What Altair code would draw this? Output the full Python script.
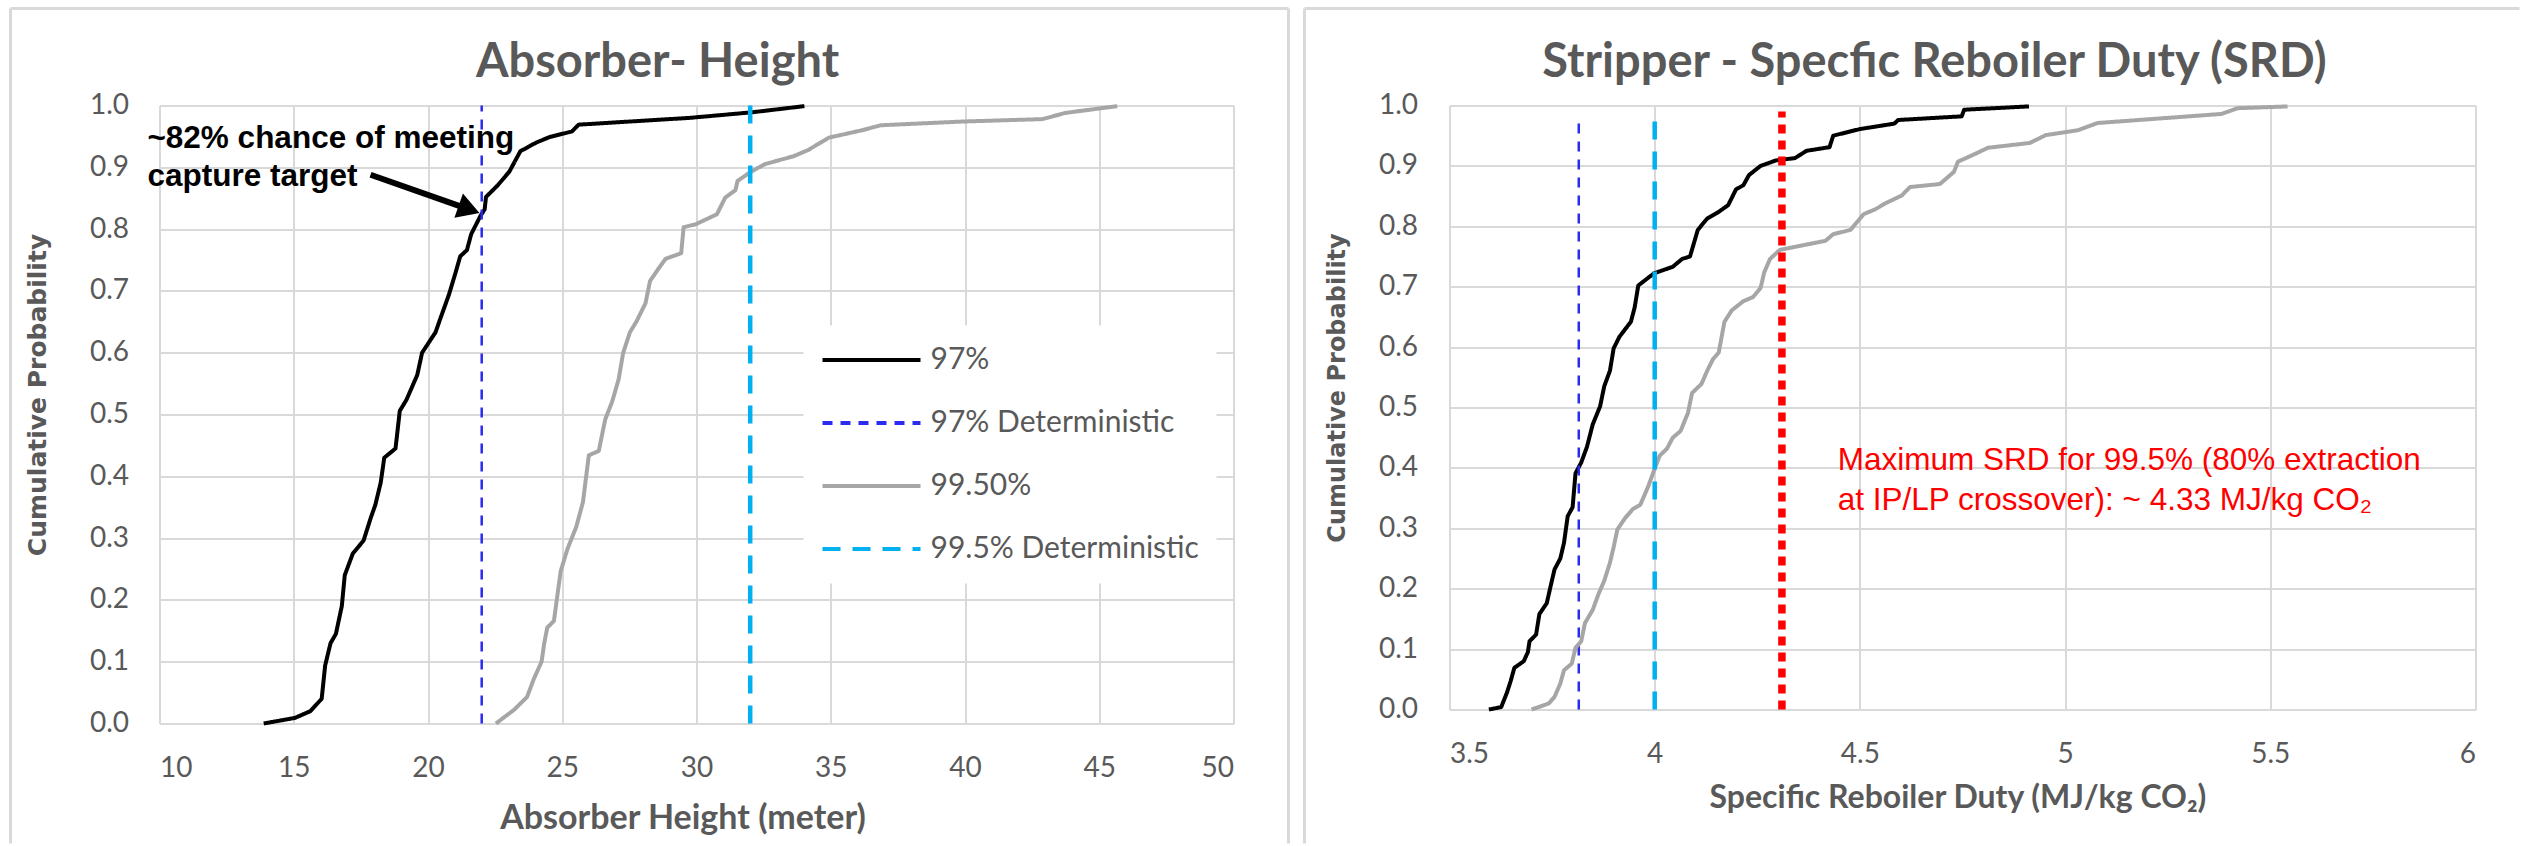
import altair as alt
import pandas as pd

# ---------------- data ----------------
SERIES = ["97%", "97% Deterministic", "99.50%", "99.5% Deterministic"]
SERIES_COLORS = ["#000000", "#2B2BF0", "#A6A6A6", "#00B0F0"]
SERIES_DASH = [[1, 0], [10, 8], [1, 0], [18, 12]]

# Absorber height CDFs
abs97_x = [13.88, 15.04, 15.62, 16.04, 16.17, 16.37, 16.57, 16.79, 16.9, 17.2,
           17.6, 17.87, 18.04, 18.24, 18.37, 18.79, 18.95, 19.2, 19.6, 19.78,
           20.28, 20.45, 20.78, 21.03, 21.2, 21.45, 21.61, 21.95, 22.11, 22.16,
           22.6, 23.03, 23.44, 24.03, 24.53, 25.36, 25.61, 29.75, 32.07, 34.02]
abs97_p = [0.0, 0.009, 0.02, 0.04, 0.094, 0.13, 0.145, 0.19, 0.24, 0.275,
           0.296, 0.333, 0.354, 0.39, 0.43, 0.445, 0.506, 0.524, 0.564, 0.6,
           0.633, 0.654, 0.694, 0.73, 0.756, 0.766, 0.792, 0.821, 0.832, 0.852,
           0.871, 0.893, 0.926, 0.94, 0.949, 0.958, 0.969, 0.98, 0.989, 0.999]
abs995_x = [22.53, 23.2, 23.69, 23.94, 24.23, 24.33, 24.44, 24.69, 24.94, 25.19,
            25.52, 25.77, 25.99, 26.36, 26.6, 26.86, 27.1, 27.27, 27.52, 27.77,
            28.1, 28.27, 28.6, 28.85, 29.43, 29.52, 29.98, 30.76, 31.07, 31.45,
            31.53, 32.0, 32.54, 33.62, 34.16, 34.93, 36.17, 36.86, 39.88, 42.89,
            43.74, 45.67]
abs995_p = [0.0, 0.022, 0.043, 0.072, 0.1, 0.13, 0.155, 0.166, 0.246, 0.282,
            0.318, 0.358, 0.434, 0.441, 0.492, 0.521, 0.557, 0.6, 0.633, 0.651,
            0.68, 0.716, 0.737, 0.752, 0.761, 0.803, 0.808, 0.824, 0.851, 0.863,
            0.878, 0.892, 0.905, 0.918, 0.928, 0.948, 0.96, 0.968, 0.974, 0.978,
            0.988, 0.999]
abs_det_x = [22.0, 32.0]          # 97% / 99.5% deterministic
abs_det_top = [1.0, 1.0]

# Stripper SRD CDFs
srd97_x = [3.596, 3.626, 3.64, 3.649, 3.658, 3.681, 3.691, 3.695, 3.711, 3.719,
           3.737, 3.747, 3.756, 3.77, 3.779, 3.788, 3.8, 3.807, 3.821, 3.835,
           3.849, 3.867, 3.877, 3.891, 3.9, 3.914, 3.942, 3.951, 3.96, 3.998,
           4.044, 4.067, 4.086, 4.105, 4.128, 4.156, 4.179, 4.198, 4.216, 4.23,
           4.258, 4.295, 4.342, 4.37, 4.426, 4.435, 4.5, 4.584, 4.593, 4.721,
           4.748, 4.754, 4.912]
srd97_p = [0.0, 0.004, 0.028, 0.047, 0.069, 0.08, 0.095, 0.113, 0.124, 0.158,
           0.176, 0.206, 0.232, 0.25, 0.276, 0.32, 0.335, 0.391, 0.409, 0.435,
           0.472, 0.502, 0.535, 0.561, 0.598, 0.617, 0.642, 0.665, 0.702, 0.722,
           0.733, 0.746, 0.75, 0.794, 0.813, 0.824, 0.835, 0.861, 0.868, 0.885,
           0.9, 0.909, 0.913, 0.925, 0.931, 0.95, 0.961, 0.97, 0.976, 0.981,
           0.982, 0.993, 0.9985]
srd995_x = [3.7, 3.742, 3.756, 3.77, 3.779, 3.798, 3.807, 3.821, 3.83, 3.849,
            3.863, 3.877, 3.891, 3.9, 3.909, 3.928, 3.947, 3.965, 3.984, 3.998,
            4.012, 4.03, 4.044, 4.063, 4.081, 4.091, 4.114, 4.128, 4.142, 4.156,
            4.17, 4.188, 4.216, 4.24, 4.258, 4.267, 4.281, 4.305, 4.416, 4.435,
            4.477, 4.509, 4.537, 4.565, 4.602, 4.622, 4.695, 4.729, 4.739, 4.778,
            4.812, 4.914, 4.953, 5.031, 5.079, 5.381, 5.42, 5.542]
srd995_p = [0.0, 0.01, 0.021, 0.043, 0.065, 0.076, 0.102, 0.113, 0.143, 0.165,
            0.191, 0.213, 0.243, 0.269, 0.298, 0.317, 0.332, 0.339, 0.369, 0.395,
            0.42, 0.432, 0.45, 0.461, 0.491, 0.524, 0.539, 0.561, 0.58, 0.591,
            0.642, 0.661, 0.676, 0.683, 0.698, 0.724, 0.746, 0.761, 0.776, 0.787,
            0.794, 0.82, 0.828, 0.839, 0.851, 0.865, 0.87, 0.89, 0.907, 0.919,
            0.93, 0.938, 0.951, 0.959, 0.971, 0.986, 0.9955, 0.9985]
srd_det_x = [3.815, 4.0]
srd_det_top = [0.978, 0.99]
srd_max_x = [4.31]
srd_max_top = [0.99]

# annotations
abs_note = "~82% chance of meeting\ncapture target"
abs_note_pos = [9.55, 0.945]
arrow_x = [17.86, 21.53]
arrow_p = [0.888, 0.832]
srd_note = "Maximum SRD for 99.5% (80% extraction\nat IP/LP crossover): ~ 4.33 MJ/kg CO\u2082"
srd_note_pos = [4.446, 0.411]

# ---------------- helpers ----------------
GRAY = "#595959"
GRID = "#D9D9D9"


def curve_df(xs, ps, name):
    return pd.DataFrame({"x": xs, "p": ps, "series": name, "i": list(range(len(xs)))})


def vline_df(x, top, name):
    return pd.DataFrame({"x": [x], "p": [0.0], "p2": [top], "series": [name]})


color_scale = alt.Scale(domain=SERIES, range=SERIES_COLORS)
dash_scale = alt.Scale(domain=SERIES, range=SERIES_DASH)
one = pd.DataFrame({"k": [0]})


def frame_rules(x_left, x_right, y_top, y_bottom, right_edge=True):
    st = dict(color=GRID, strokeWidth=3, strokeCap="butt")
    parts = [
        alt.Chart(one).mark_rule(**st).encode(x=alt.value(x_left), x2=alt.value(x_right), y=alt.value(y_top)),
        alt.Chart(one).mark_rule(**st).encode(x=alt.value(x_left), y=alt.value(y_top), y2=alt.value(y_bottom)),
    ]
    if right_edge:
        parts.append(alt.Chart(one).mark_rule(**st).encode(x=alt.value(x_right), y=alt.value(y_top), y2=alt.value(y_bottom)))
    return parts


def panel(W, H, xdom, xvals, xfmt, xtitle, xtitle_pos, xtitle_size, ytitle_pos, ylabpad, title,
          title_dx, curves, dets, legend, extra, frame, ytitle_size):
    X = alt.X("x:Q", scale=alt.Scale(domain=xdom, nice=False, zero=False),
              axis=alt.Axis(values=xvals, format=xfmt, title=xtitle, labelPadding=45,
                            labelBaseline="middle", titleX=xtitle_pos[0], titleY=xtitle_pos[1],
                            titleBaseline="middle", titleAlign="center", titleFont="Lato",
                            titleFontWeight="bold", titleFontSize=xtitle_size, titleColor=GRAY))
    Y = alt.Y("p:Q", scale=alt.Scale(domain=[0, 1], nice=False),
              axis=alt.Axis(values=[round(i * 0.1, 1) for i in range(11)], format=".1f",
                            title="Cumulative Probability", labelPadding=ylabpad,
                            titleX=ytitle_pos[0], titleY=ytitle_pos[1], titleBaseline="middle",
                            titleAlign="center", titleAngle=270, titleFont="DejaVu Sans",
                            titleFontWeight="bold", titleFontSize=ytitle_size, titleColor=GRAY))
    S = alt.Stroke("series:N", scale=color_scale, legend=legend)
    D = alt.StrokeDash("series:N", scale=dash_scale, legend=legend)

    layers = frame[:]
    (c97, c995) = curves
    (d97, d995) = dets
    layers.append(alt.Chart(c97).mark_line(strokeWidth=4, strokeJoin="round").encode(
        x=X, y=Y, stroke=S, strokeDash=D, order="i:Q"))
    layers.append(alt.Chart(d97).mark_rule(strokeWidth=2.5, strokeCap="butt").encode(
        x=X, y=Y, y2="p2:Q", stroke=S, strokeDash=D))
    layers.append(alt.Chart(c995).mark_line(strokeWidth=4, strokeJoin="round").encode(
        x=X, y=Y, stroke=S, strokeDash=D, order="i:Q"))
    layers.append(alt.Chart(d995).mark_rule(strokeWidth=4.5, strokeCap="butt").encode(
        x=X, y=Y, y2="p2:Q", stroke=S, strokeDash=D))
    for e in extra:
        layers.append(e(X, Y))

    return alt.layer(*layers).properties(
        width=W, height=H,
        title=alt.TitleParams(title, font="Lato", fontSize=47, fontWeight="bold", color=GRAY,
                              anchor="middle", frame="group", dx=title_dx, offset=-116.5,
                              baseline="alphabetic"))


# ---------------- left panel ----------------
legend_left = alt.Legend(orient="none", legendX=644, legendY=220, title=None, fillColor="white",
                         padding=17, symbolType="stroke", symbolSize=9604, symbolStrokeWidth=4,
                         labelFont="Lato", labelFontSize=30, labelColor=GRAY, labelOffset=8,
                         rowPadding=28, clipHeight=35, direction="vertical", labelLimit=500)


def abs_text(X, Y):
    d = pd.DataFrame({"x": [abs_note_pos[0]], "p": [abs_note_pos[1]], "t": [abs_note]})
    return alt.Chart(d).mark_text(align="left", baseline="middle", lineBreak="\n", lineHeight=38,
                                  font="Liberation Sans", fontWeight="bold", fontSize=31.5,
                                  color="black").encode(x=X, y=Y, text="t:N")


def abs_arrow(X, Y):
    d = pd.DataFrame({"x": arrow_x, "p": arrow_p, "i": [0, 1]})
    return alt.Chart(d).mark_line(color="black", strokeWidth=6).encode(x=X, y=Y, order="i:Q")


def abs_head(X, Y):
    d = pd.DataFrame({"x": [arrow_x[1]], "p": [arrow_p[1]]})
    return alt.Chart(d).mark_point(shape="triangle-right", angle=19.5, size=650, filled=True,
                                   color="black", opacity=1, strokeWidth=0).encode(x=X, y=Y)


left = panel(
    1074, 618, [10, 50], list(range(10, 55, 5)), "d", "Absorber Height (meter)", (523, 95), 34,
    (-122, 289), 31, "Absorber- Height", -39,
    (curve_df(abs97_x, abs97_p, SERIES[0]), curve_df(abs995_x, abs995_p, SERIES[2])),
    (vline_df(abs_det_x[0], abs_det_top[0], SERIES[1]), vline_df(abs_det_x[1], abs_det_top[1], SERIES[3])),
    legend_left, [abs_text, abs_arrow, abs_head],
    frame_rules(-149, 1129, -97, 738, True), 25)

# ---------------- right panel ----------------


def srd_red(X, Y):
    d = pd.DataFrame({"x": srd_max_x, "p": [0.0], "p2": srd_max_top})
    return alt.Chart(d).mark_rule(color="#FF0000", strokeWidth=7.5, strokeDash=[9, 7],
                                  strokeCap="butt").encode(x=X, y=Y, y2="p2:Q")


def srd_text(X, Y):
    d = pd.DataFrame({"x": [srd_note_pos[0]], "p": [srd_note_pos[1]], "t": [srd_note]})
    return alt.Chart(d).mark_text(align="left", baseline="middle", lineBreak="\n", lineHeight=40,
                                  font="Liberation Sans", fontSize=31.5,
                                  color="#FF0000").encode(x=X, y=Y, text="t:N")


right = panel(
    1026, 604, [3.5, 6], [3.5, 4, 4.5, 5, 5.5, 6], "~g", "Specific Reboiler Duty (MJ/kg CO\u2082)",
    (508, 88), 32, (-112, 282), 32, "Stripper - Specfic Reboiler Duty (SRD)", -28,
    (curve_df(srd97_x, srd97_p, SERIES[0]), curve_df(srd995_x, srd995_p, SERIES[2])),
    (vline_df(srd_det_x[0], srd_det_top[0], SERIES[1]), vline_df(srd_det_x[1], srd_det_top[1], SERIES[3])),
    None, [srd_red, srd_text],
    frame_rules(-145, 1070, -97, 738, False), 24)

chart = alt.hconcat(left, right, spacing=12).resolve_scale(
    stroke="independent", strokeDash="independent"
).properties(
    padding={"left": 8.5, "top": 6.5, "right": 0, "bottom": 0}
).configure_view(stroke=None).configure_axis(
    grid=True, gridColor=GRID, gridWidth=2, domain=False, ticks=False, tickSize=0,
    labelFont="Lato", labelFontSize=28, labelColor=GRAY
)

chart.save("out.html", embed_options={"renderer": "svg", "actions": False})
